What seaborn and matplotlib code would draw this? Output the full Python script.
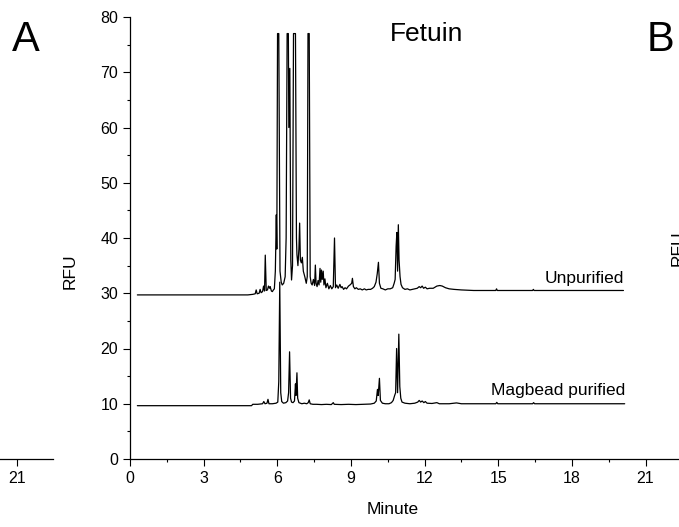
import numpy as np
import pandas as pd
import matplotlib
matplotlib.use("Agg")
import matplotlib.pyplot as plt
from matplotlib.ticker import MultipleLocator
import seaborn as sns

# ---------------- data (minute, RFU) ----------------
unpurified_min = [0.30, 4.80, 5.00, 5.10, 5.14, 5.18, 5.26, 5.30, 5.34, 5.40, 5.44, 5.48, 5.51, 5.55,
                  5.60, 5.64, 5.68, 5.71, 5.76, 5.80, 5.84, 5.88, 5.92, 5.96, 5.98, 6.01, 6.06, 6.11,
                  6.16, 6.20, 6.26, 6.32, 6.36, 6.40, 6.45, 6.47, 6.51, 6.55, 6.58, 6.62, 6.66, 6.74,
                  6.78, 6.80, 6.84, 6.88, 6.91, 6.94, 6.98, 7.02, 7.06, 7.12, 7.18, 7.22, 7.25, 7.30,
                  7.34, 7.38, 7.42, 7.47, 7.52, 7.55, 7.58, 7.62, 7.66, 7.70, 7.74, 7.77, 7.80, 7.83,
                  7.87, 7.90, 7.94, 7.98, 8.04, 8.10, 8.16, 8.22, 8.28, 8.33, 8.37, 8.42, 8.48, 8.55,
                  8.60, 8.64, 8.70, 8.76, 8.82, 8.90, 8.96, 9.03, 9.06, 9.10, 9.16, 9.22, 9.30, 9.38,
                  9.46, 9.55, 9.62, 9.70, 9.80, 9.88, 9.95, 10.02, 10.07, 10.12, 10.16, 10.22, 10.30,
                  10.40, 10.50, 10.60, 10.70, 10.76, 10.80, 10.84, 10.87, 10.90, 10.93, 10.96, 11.00,
                  11.04, 11.10, 11.20, 11.30, 11.40, 11.50, 11.60, 11.70, 11.78, 11.84, 11.90, 11.96,
                  12.03, 12.10, 12.20, 12.35, 12.50, 12.62, 12.72, 12.85, 13.00, 13.20, 13.50, 14.00,
                  14.90, 14.93, 14.96, 16.00, 16.40, 16.43, 16.46, 18.00, 20.10]
unpurified_rfu = [29.7, 29.7, 29.8, 29.9, 30.6, 29.9, 30.0, 30.7, 30.1, 30.3, 31.3, 30.4, 36.9, 30.5,
                  30.6, 31.3, 30.9, 31.2, 30.4, 30.3, 30.6, 30.8, 34.0, 44.2, 38.0, 77.0, 77.0, 34.0,
                  32.0, 31.5, 31.8, 33.0, 40.0, 77.0, 77.0, 60.0, 70.7, 36.0, 32.4, 35.0, 77.0, 77.0,
                  40.0, 37.0, 35.0, 38.0, 42.7, 36.0, 35.5, 36.5, 34.0, 33.0, 31.8, 33.0, 77.0, 77.0,
                  33.0, 31.8, 31.5, 32.5, 31.4, 35.1, 31.8, 31.2, 32.3, 31.5, 34.5, 32.0, 34.2, 32.5,
                  34.0, 31.5, 32.6, 31.0, 31.8, 30.8, 31.4, 30.8, 31.2, 40.0, 31.0, 31.5, 30.9, 31.6,
                  31.0, 31.2, 30.7, 31.0, 30.8, 31.3, 31.5, 31.8, 32.7, 31.2, 30.8, 31.0, 30.7, 30.8,
                  30.6, 30.8, 30.6, 30.7, 30.7, 30.9, 31.2, 32.0, 33.5, 35.6, 31.8, 30.9, 30.8,
                  30.6, 30.8, 30.8, 31.0, 31.8, 32.5, 38.5, 41.0, 34.0, 42.4, 36.0, 33.0,
                  31.6, 31.0, 30.7, 30.8, 30.6, 30.7, 30.8, 30.9, 31.2, 31.0, 31.3, 30.9,
                  31.1, 30.8, 30.9, 30.9, 31.3, 31.4, 31.3, 31.0, 30.8, 30.7, 30.6, 30.5,
                  30.5, 30.8, 30.5, 30.5, 30.5, 30.7, 30.5, 30.5, 30.5]

magbead_min = [0.30, 4.95, 5.00, 5.20, 5.40, 5.45, 5.50, 5.58, 5.62, 5.66, 5.80, 5.95, 6.02, 6.06,
               6.10, 6.14, 6.18, 6.25, 6.35, 6.42, 6.46, 6.50, 6.54, 6.58, 6.64, 6.70, 6.74, 6.76,
               6.80, 6.83, 6.88, 7.00, 7.10, 7.20, 7.26, 7.30, 7.34, 7.45, 7.60, 7.80, 8.00, 8.20,
               8.28, 8.32, 8.60, 8.90, 9.20, 9.50, 9.80, 9.95, 10.03, 10.08, 10.11, 10.16, 10.20,
               10.28, 10.40, 10.55, 10.65, 10.72, 10.78, 10.82, 10.86, 10.90, 10.95, 10.99, 11.03,
               11.08, 11.20, 11.40, 11.60, 11.72, 11.78, 11.84, 11.90, 11.97, 12.03, 12.10, 12.30,
               12.50, 12.60, 13.00, 13.30, 13.50, 14.90, 14.94, 14.98, 16.40, 16.44, 16.48, 20.15]
magbead_rfu = [9.65, 9.65, 9.9, 9.9, 10.0, 10.4, 10.0, 10.1, 10.8, 10.0, 10.0, 10.1, 10.3, 14.0,
               32.0, 12.0, 10.4, 10.1, 10.2, 10.5, 12.0, 19.4, 11.0, 10.3, 10.2, 10.5, 13.6, 11.5,
               15.6, 11.0, 10.2, 10.0, 10.1, 10.0, 10.2, 10.7, 10.0, 9.9, 9.9, 9.85, 9.9, 9.85,
               10.2, 9.9, 9.85, 9.9, 9.85, 9.9, 9.95, 10.1, 10.5, 12.6, 11.5, 14.6, 10.6,
               10.1, 10.0, 10.0, 10.2, 10.6, 11.5, 12.0, 20.0, 12.0, 22.6, 13.1, 11.0,
               10.3, 10.1, 10.0, 10.1, 10.3, 10.6, 10.3, 10.5, 10.2, 10.4, 10.1, 10.05,
               10.2, 10.0, 10.0, 10.15, 10.0, 10.0, 10.25, 10.0, 10.0, 10.2, 10.0, 10.0]

x_ticks = [0, 3, 6, 9, 12, 15, 18, 21]
y_ticks = [0, 10, 20, 30, 40, 50, 60, 70, 80]

# ---------------- figure ----------------
sns.set_style("ticks")
plt.rcParams["font.family"] = ["Liberation Sans", "DejaVu Sans"]
plt.rcParams["text.color"] = "black"
plt.rcParams["axes.labelcolor"] = "black"
plt.rcParams["xtick.color"] = "black"
plt.rcParams["ytick.color"] = "black"
plt.rcParams["axes.edgecolor"] = "black"

W, H = 679, 527
fig = plt.figure(figsize=(W / 100, H / 100), dpi=100)

x0_px, px_per_min = 130.0, 24.55
y0_px, y80_px = 459.0, 17.0
bottom = 1 - y0_px / H
height = (y0_px - y80_px) / H
xmax = (W - x0_px) / px_per_min
ax = fig.add_axes([x0_px / W, bottom, 1 - x0_px / W, height])

df = pd.concat([
    pd.DataFrame({"Minute": unpurified_min, "RFU": unpurified_rfu, "Sample": "Unpurified"}),
    pd.DataFrame({"Minute": magbead_min, "RFU": magbead_rfu, "Sample": "Magbead purified"}),
])
sns.lineplot(data=df, x="Minute", y="RFU", hue="Sample", units="Sample",
             palette=["black", "black"], estimator=None, sort=False,
             legend=False, lw=0.9, ax=ax)

ax.set_xlim(0, xmax)
ax.set_ylim(0, 80)
ax.set_xticks(x_ticks)
ax.set_yticks(y_ticks)
ax.xaxis.set_minor_locator(MultipleLocator(1.5))
ax.yaxis.set_minor_locator(MultipleLocator(5))
ax.tick_params(which="major", direction="out", length=5, width=0.8, labelsize=11.5, pad=3.5,
               color="black", labelcolor="black")
ax.tick_params(which="minor", direction="out", length=2.5, width=0.8, color="black")
ax.set_xlabel("")
ax.set_ylabel("")
for s in ["top", "right"]:
    ax.spines[s].set_visible(False)
for s in ["left", "bottom"]:
    ax.spines[s].set_linewidth(0.9)
    ax.spines[s].set_color("black")
ax.patch.set_alpha(0)

ax.text(20.12, 31.8, "Unpurified", ha="right", va="baseline", fontsize=12.5, color="black")
ax.text(20.16, 11.5, "Magbead purified", ha="right", va="baseline", fontsize=12.5, color="black")

# partial neighbouring panel on the left
left0_px = 17 - 21 * px_per_min
axl = fig.add_axes([left0_px / W, bottom, (53 - left0_px) / W, height])
axl.set_xlim(0, (53 - left0_px) / px_per_min)
axl.set_ylim(0, 80)
axl.set_xticks([21])
axl.set_yticks([])
axl.tick_params(axis="x", direction="out", length=5, width=0.8, labelsize=11.5, pad=3.5,
                color="black", labelcolor="black")
for s in ["top", "right", "left"]:
    axl.spines[s].set_visible(False)
axl.spines["bottom"].set_linewidth(0.9)
axl.spines["bottom"].set_color("black")
axl.patch.set_alpha(0)

# texts
fig.text(393 / W, 1 - 510 / H, "Minute", ha="center", va="center", fontsize=12.5)
fig.text(70 / W, 1 - 271 / H, "RFU", ha="center", va="center", rotation=90, fontsize=12.5)
fig.text(427 / W, 1 - 41 / H, "Fetuin", ha="center", va="baseline", fontsize=19)
fig.text(26 / W, 1 - 40 / H, "A", ha="center", va="center", fontsize=30)
fig.text(660 / W, 1 - 40 / H, "B", ha="center", va="center", fontsize=30)
fig.text(678 / W, 1 - 248 / H, "RFU", ha="center", va="center", rotation=90, fontsize=12.5)

fig.savefig("out.png", dpi=100)
